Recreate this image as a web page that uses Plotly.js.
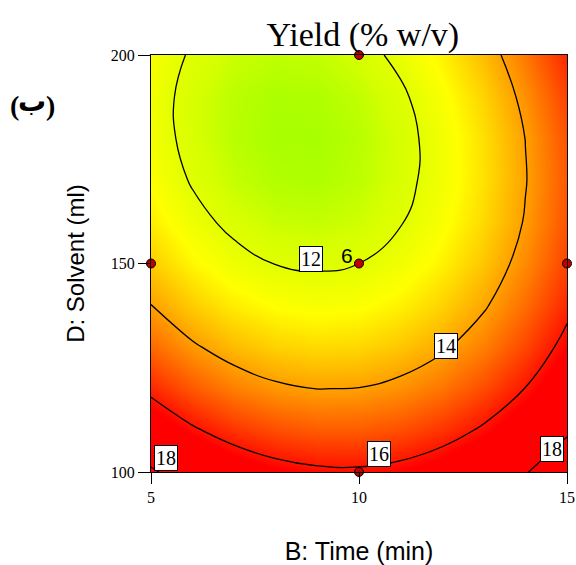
<!DOCTYPE html>
<html>
<head>
<meta charset="utf-8">
<script src="https://cdn.plot.ly/plotly-3.0.1.min.js"></script>
<style>html,body{margin:0;padding:0;background:#fff;}#chart{width:576px;height:565px;}</style>
</head>
<body>
<div id="chart"></div>
<script>
// B: Time (min) grid
const timeVals = [5, 6, 7, 8, 9, 10, 11, 12, 13, 14, 15];
// D: Solvent (ml) grid
const solventVals = [100, 110, 120, 130, 140, 150, 160, 170, 180, 190, 200];
// Yield (% w/v); one row per solvent value
const yieldD100 = [18.15, 17.37, 16.78, 16.38, 16.17, 16.14, 16.30, 16.66, 17.20, 17.93, 18.85];
const yieldD110 = [16.89, 16.13, 15.57, 15.19, 15.00, 15.00, 15.19, 15.57, 16.14, 16.90, 17.84];
const yieldD120 = [15.77, 15.04, 14.50, 14.15, 13.99, 14.02, 14.24, 14.64, 15.24, 16.02, 16.99];
const yieldD130 = [14.81, 14.11, 13.60, 13.27, 13.14, 13.19, 13.44, 13.87, 14.49, 15.30, 16.30];
const yieldD140 = [14.01, 13.33, 12.85, 12.55, 12.44, 12.52, 12.79, 13.25, 13.90, 14.73, 15.76];
const yieldD150 = [13.36, 12.71, 12.25, 11.98, 11.90, 12.00, 12.30, 12.78, 13.46, 14.32, 15.37];
const yieldD160 = [12.86, 12.24, 11.81, 11.56, 11.51, 11.64, 11.96, 12.47, 13.17, 14.06, 15.14];
const yieldD170 = [12.52, 11.93, 11.52, 11.30, 11.27, 11.43, 11.78, 12.32, 13.04, 13.96, 15.06];
const yieldD180 = [12.34, 11.77, 11.39, 11.20, 11.19, 11.38, 11.75, 12.32, 13.07, 14.01, 15.14];
const yieldD190 = [12.31, 11.76, 11.41, 11.24, 11.27, 11.48, 11.88, 12.47, 13.25, 14.22, 15.38];
const yieldD200 = [12.43, 11.91, 11.59, 11.45, 11.50, 11.74, 12.17, 12.78, 13.59, 14.58, 15.76];
const yieldGrid = [yieldD100, yieldD110, yieldD120, yieldD130, yieldD140, yieldD150,
                   yieldD160, yieldD170, yieldD180, yieldD190, yieldD200];

// design points
const designTime = [10, 5, 10, 15, 10];
const designSolvent = [200, 150, 150, 150, 100];

// contour label texts and their positions
const labelText = ["12", "14", "16", "18", "18"];
const labelTime = [8.85, 12.08, 10.49, 5.35, 14.63];
const labelSolvent = [151.1, 130.3, 104.3, 103.4, 105.5];

const xTicks = [5, 10, 15];
const yTicks = [100, 150, 200];

const colors = [
  [0.0, 'rgb(160,255,0)'],
  [0.115, 'rgb(212,255,0)'],
  [0.288, 'rgb(255,255,0)'],
  [0.558, 'rgb(255,160,0)'],
  [0.808, 'rgb(255,70,0)'],
  [1.0, 'rgb(255,0,0)']
];

const traces = [
  {
    type: 'heatmap', x: timeVals, y: solventVals, z: yieldGrid,
    zsmooth: 'best', colorscale: colors, zmin: 11.1, zmax: 16.3,
    showscale: false, hoverinfo: 'skip'
  },
  {
    type: 'contour', x: timeVals, y: solventVals, z: yieldGrid,
    contours: {start: 12, end: 18, size: 2, coloring: 'lines', showlabels: false},
    colorscale: [[0, 'black'], [1, 'black']],
    line: {width: 1.3, smoothing: 1.3},
    showscale: false, hoverinfo: 'skip'
  },
  {
    type: 'scatter', mode: 'markers', x: designTime, y: designSolvent,
    marker: {size: 9, color: '#c00000', line: {color: '#000', width: 1}},
    cliponaxis: false, hoverinfo: 'skip'
  }
];

const annotations = labelText.map((t, i) => ({
  x: labelTime[i], y: labelSolvent[i], xref: 'x', yref: 'y', text: t,
  showarrow: false, bgcolor: '#fff', bordercolor: '#000', borderwidth: 1, borderpad: 1,
  font: {family: 'Liberation Serif, Times New Roman, serif', size: 20, color: '#000'}
}));
annotations.push({
  x: 9.7, y: 151.8, xref: 'x', yref: 'y', text: '6', showarrow: false,
  font: {family: 'Liberation Sans, Arial, sans-serif', size: 21, color: '#000'}
});

// panel mark "(ب)": pixel positions converted to paper coordinates
function px2paperX(px) { return (px - 151) / 416; }
function px2paperY(py) { return 1 + (55 - py) / 417; }
const markParts = [
  {t: '(', px: 14, py: 105, fam: 'Liberation Serif, serif', size: 28},
  {t: '\u0628', px: 32, py: 102, fam: 'DejaVu Sans, Noto Sans, sans-serif', size: 28},
  {t: ')', px: 50, py: 105, fam: 'Liberation Serif, serif', size: 28}
];
markParts.forEach(m => annotations.push({
  x: px2paperX(m.px), y: px2paperY(m.py), xref: 'paper', yref: 'paper',
  xanchor: 'center', yanchor: 'middle', text: m.t, showarrow: false,
  font: {family: m.fam, size: m.size, color: '#000', weight: 'bold'}
}));

const axisFont = {family: 'Liberation Serif, Times New Roman, serif', size: 16, color: '#000'};

const layout = {
  width: 576, height: 565,
  margin: {l: 151, r: 9, t: 55, b: 93},
  paper_bgcolor: '#fff', plot_bgcolor: '#fff',
  showlegend: false,
  title: {
    text: 'Yield (% w/v)', x: 0.63, xanchor: 'center', y: 0.94, yanchor: 'middle',
    yref: 'container',
    font: {family: 'Liberation Serif, Times New Roman, serif', size: 34, color: '#000'}
  },
  xaxis: {
    range: [5, 15], tickvals: xTicks, ticktext: xTicks.map(String),
    ticks: 'outside', ticklen: 11, tickcolor: '#000', tickwidth: 1,
    showline: true, linecolor: '#000', linewidth: 1, mirror: true,
    showgrid: false, zeroline: false, tickfont: axisFont,
    title: {text: 'B: Time (min)', standoff: 45,
            font: {family: 'Liberation Sans, Arial, sans-serif', size: 25, color: '#000'}}
  },
  yaxis: {
    range: [100, 200], tickvals: yTicks, ticktext: yTicks.map(String),
    ticks: 'outside', ticklen: 12, tickcolor: '#000', tickwidth: 1,
    showline: true, linecolor: '#000', linewidth: 1, mirror: true,
    showgrid: false, zeroline: false, tickfont: axisFont,
    title: {text: 'D: Solvent (ml)', standoff: 19,
            font: {family: 'Liberation Sans, Arial, sans-serif', size: 24, color: '#000'}}
  },
  annotations: annotations
};

Plotly.newPlot('chart', traces, layout, {displayModeBar: false, staticPlot: true});
</script>
</body>
</html>
